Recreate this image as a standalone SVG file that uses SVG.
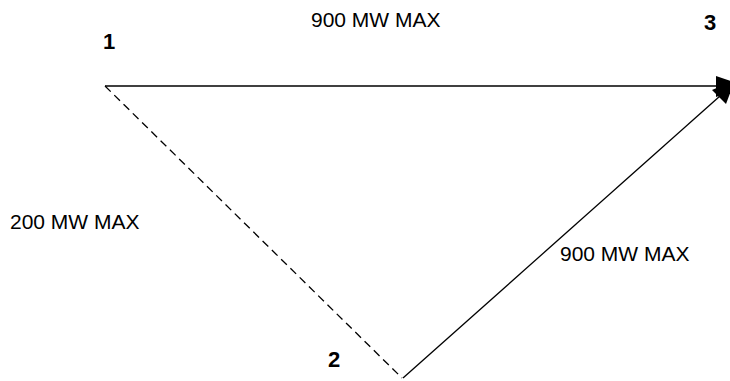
<svg xmlns="http://www.w3.org/2000/svg" width="730" height="381" viewBox="0 0 730 381">
<style>
.lbl{font-family:"Liberation Sans",Arial,sans-serif;font-size:21px;fill:#000}
.num{font-family:"Liberation Sans",Arial,sans-serif;font-size:22px;font-weight:bold;fill:#000}
.ln{stroke:#000;stroke-width:1.3;fill:none}
</style>
<rect width="730" height="381" fill="#fff"/>
<g id="connectors">
<line class="ln" x1="105" y1="86" x2="716" y2="86"/>
<path d="M716,76 L745,86 L716,97 Z" fill="#000"/>
<line class="ln" x1="105" y1="86" x2="402" y2="378" stroke-dasharray="8,5"/>
<line class="ln" x1="403" y1="378" x2="720" y2="96"/>
<path d="M712,90 L735,80 L726,104 Z" fill="#000"/>
</g>
<g id="node1"><text class="num" x="103" y="49">1</text></g>
<g id="node2"><text class="num" x="328" y="367">2</text></g>
<g id="node3"><text class="num" x="704" y="30">3</text></g>
<g id="labels">
<text class="lbl" x="311" y="27">900 MW MAX</text>
<text class="lbl" x="10" y="229">200 MW MAX</text>
<text class="lbl" x="560" y="261">900 MW MAX</text>
</g>
</svg>
